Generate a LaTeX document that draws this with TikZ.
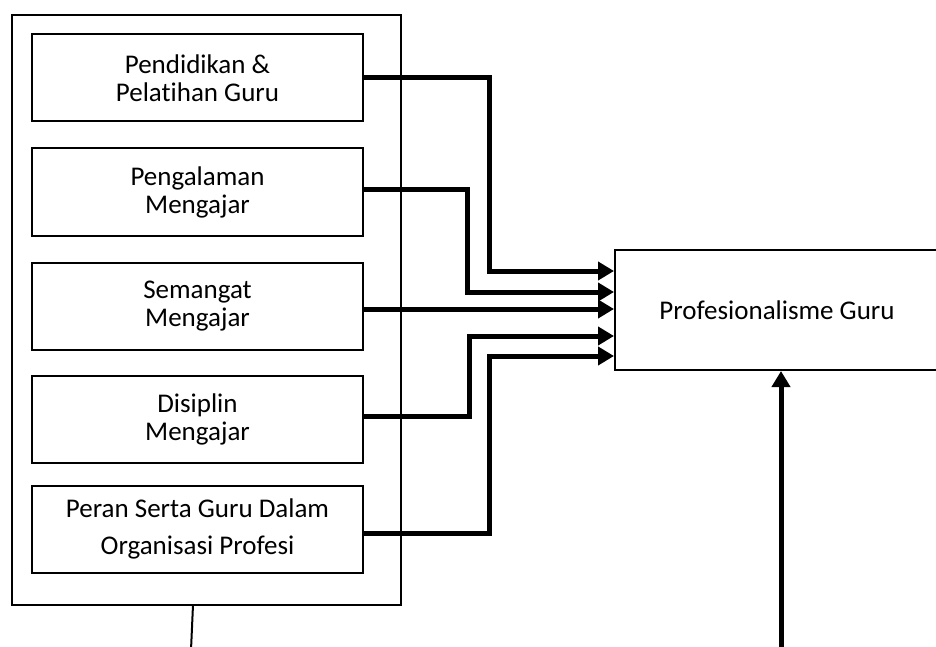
\documentclass[tikz,border=0pt]{standalone}
\usepackage{fontspec}
\setmainfont{Carlito}[Ligatures=NoCommon]
\usetikzlibrary{arrows.meta}

\tikzset{
	faktor/.style={draw,line width=2pt,minimum width=331pt,minimum height=87pt,inner sep=0pt,align=center,font=\fontsize{27}{28}\selectfont},
	panah/.style={line width=5pt,-{Triangle[length=16pt,width=18pt]}},
}

\begin{document}
\begin{tikzpicture}[x=1pt,y=-1pt,line width=2pt]
\useasboundingbox (0,0) rectangle (936,647);

\node[draw,minimum width=389pt,minimum height=590pt] (grp) at (206.5,310) {};
\node[faktor] (b1) at (197.5,78) {Pendidikan \&\\Pelatihan Guru};
\node[faktor] (b2) at (197.5,192) {Pengalaman\\Mengajar};
\node[faktor] (b3) at (197.5,306.5) {Semangat\\Mengajar};
\node[faktor] (b4) at (197.5,419) {Disiplin\\Mengajar};
\node[faktor,font=\fontsize{27}{37}\selectfont] (b5) at (197.5,529) {Peran Serta Guru Dalam\\Organisasi Profesi};
\node[draw,minimum width=324pt,minimum height=120pt,font=\fontsize{27}{28}\selectfont] (prof) at (777,310) {Profesionalisme Guru};

\foreach \n/\x/\y in {1/489/271,2/467/292,3/420/309,4/469/336,5/489/356}{
	\coordinate (j\n) at (\x,\y);
}

\draw[panah] (b1.east) -| (j1) -- (j1 -| prof.west);
\draw[panah] ([yshift=3pt]b2.east) -| (j2) -- (j2 -| prof.west);
\draw[panah] (b3.east |- j3) -- (j3 -| prof.west);
\draw[panah] ([yshift=3pt]b4.east) -| (j4) -- (j4 -| prof.west);
\draw[panah] ([yshift=-4pt]b5.east) -| (j5) -- (j5 -| prof.west);

\coordinate (lt) at (193,605);
\coordinate (lb) at (191,650);
\draw (lt) -- (lb);
\coordinate (ab) at (781,650);
\draw[panah] (ab) -- (ab |- prof.south);

\end{tikzpicture}
\end{document}
